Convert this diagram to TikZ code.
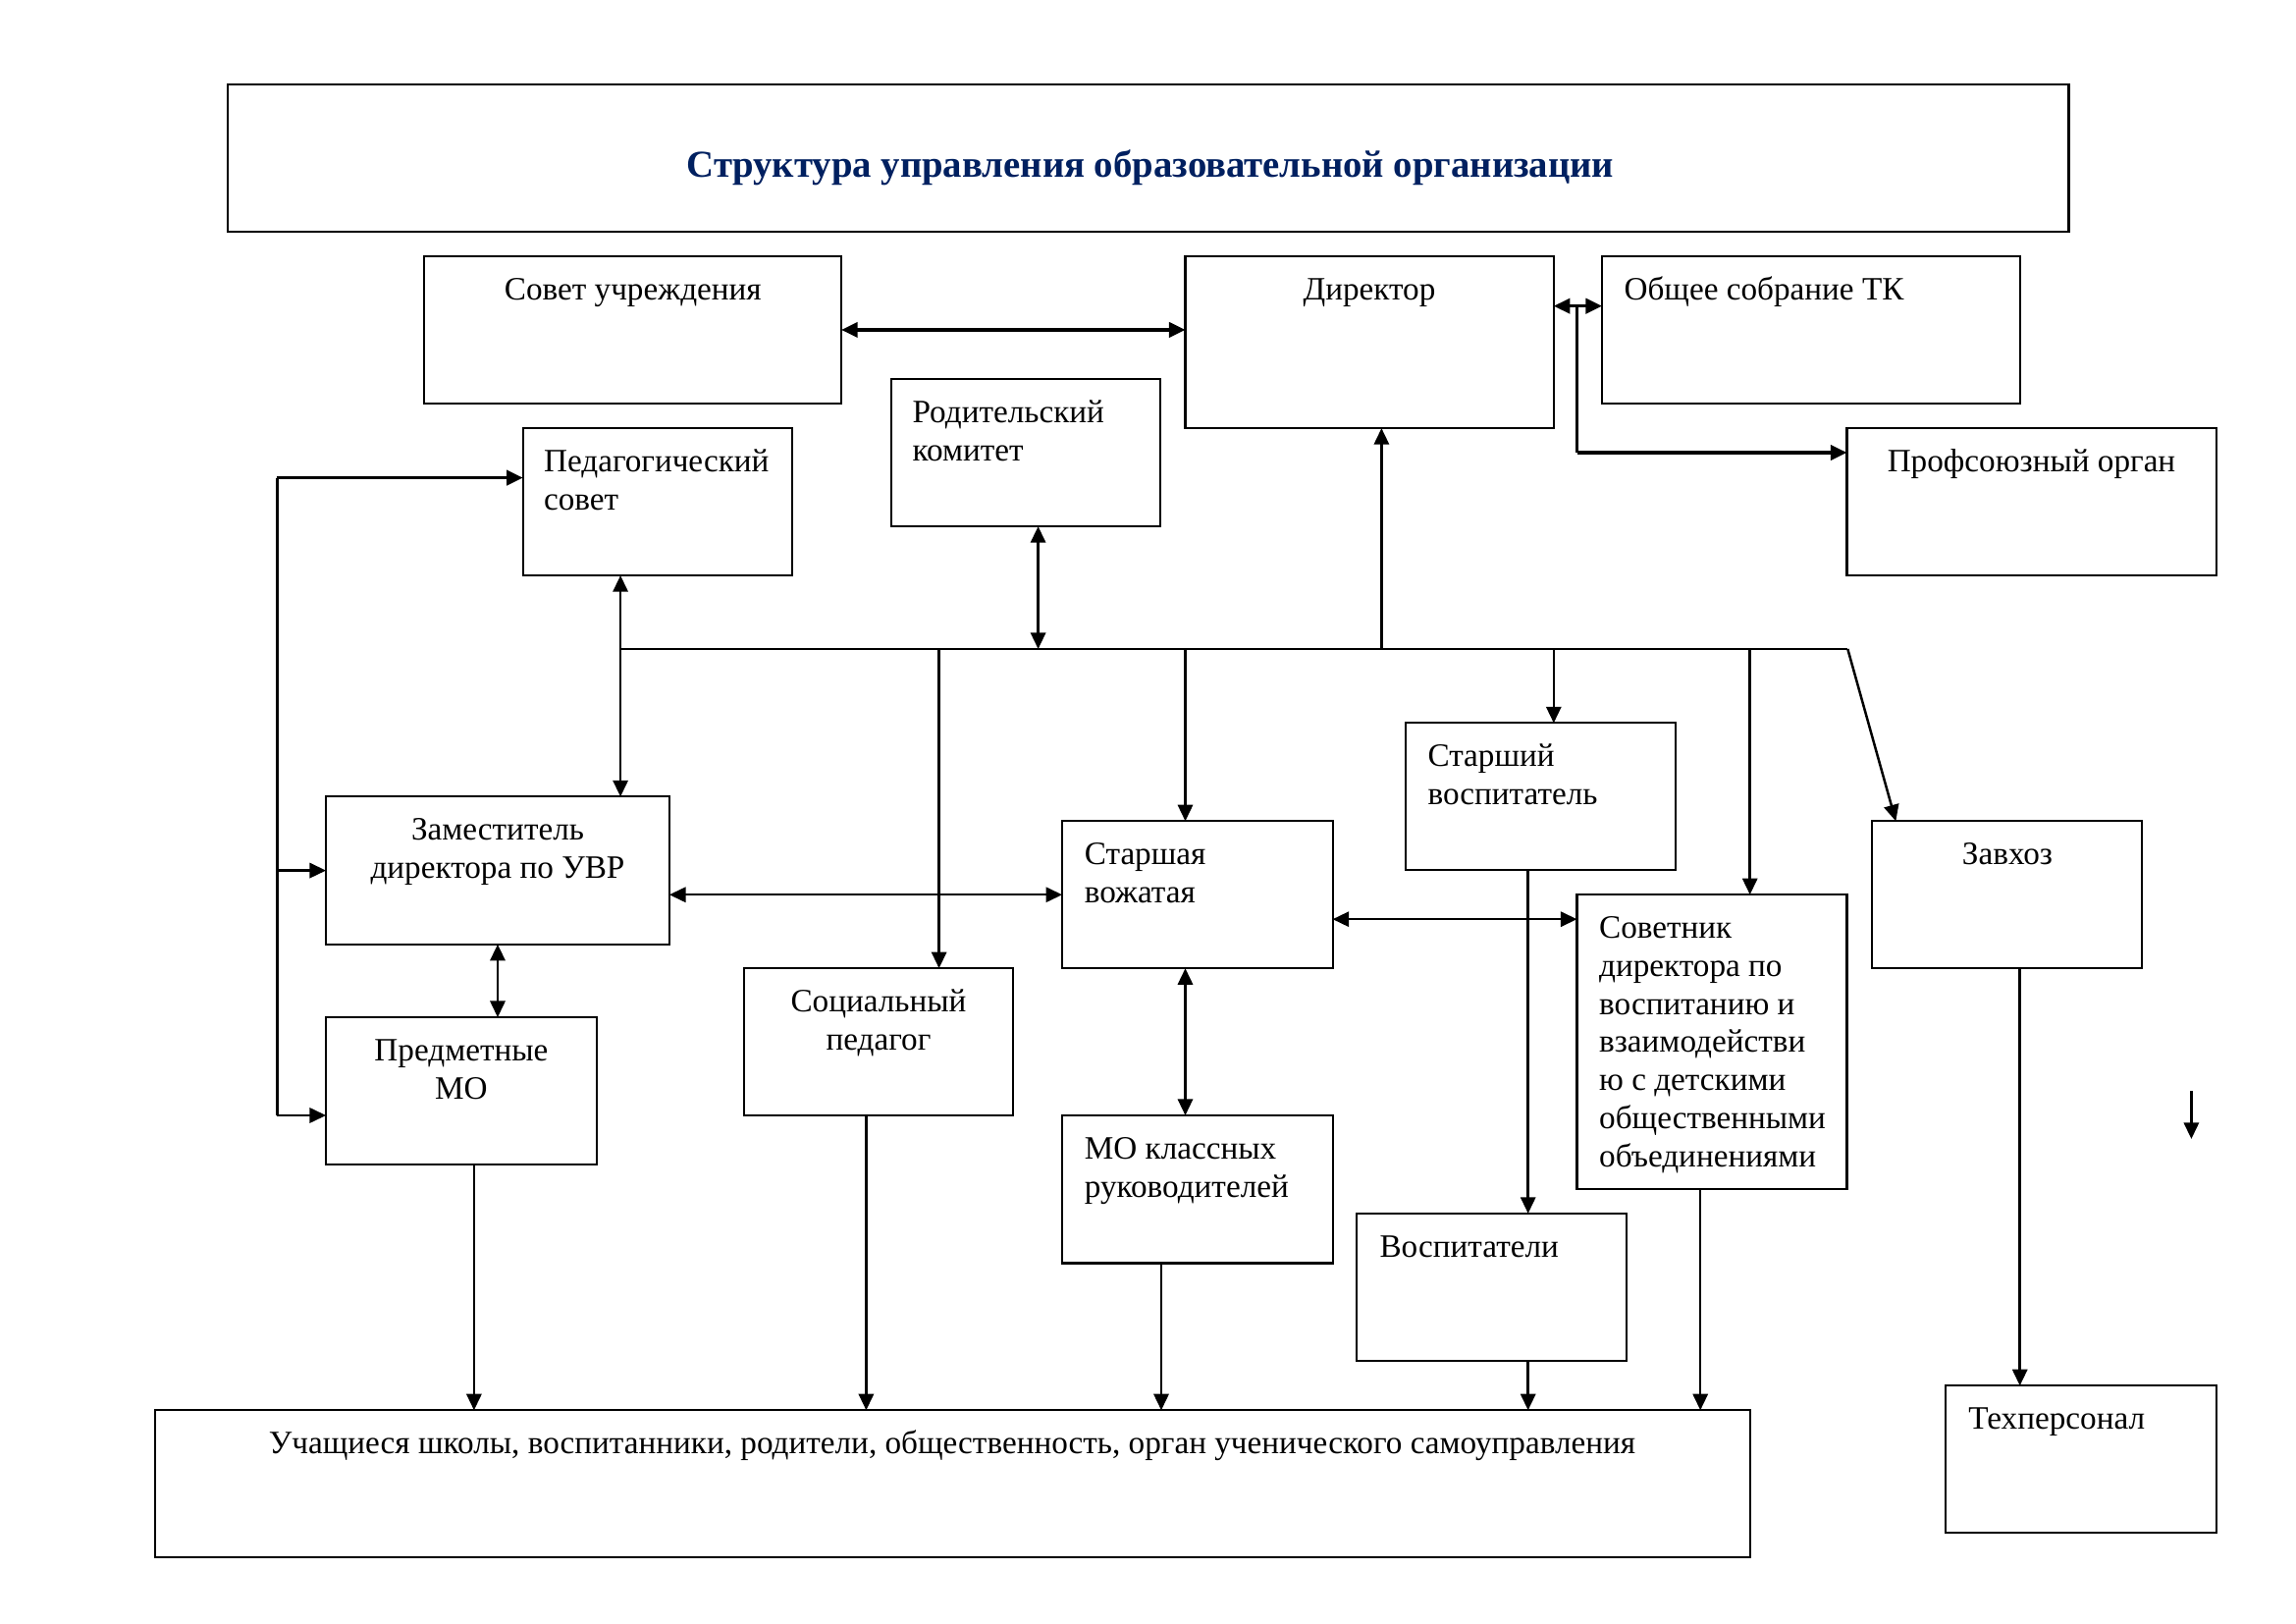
\documentclass[tikz,border=0pt]{standalone}
\usepackage{fontspec}
\setmainfont{Liberation Serif}
\usetikzlibrary{arrows.meta}
\definecolor{titleblue}{RGB}{0,32,96}
\newcommand{\bx}[5]{\node[box, anchor=north west, minimum width={(#4-#2)*0.12698mm}, minimum height={(#5-#3)*0.12698mm}] (#1) at (#2,#3) {};}
\begin{document}
\begin{tikzpicture}[x={(0.12698mm,0)}, y={(0,-0.12698mm)},
  box/.style={draw, line width=0.75pt, inner sep=0pt, outer sep=0pt},
  txt/.style={inner sep=0pt, font=\fontsize{12}{14}\selectfont},
  tl/.style={txt, anchor=north west, align=left},
  tc/.style={txt, anchor=north, align=center},
  conn/.style={line width=0.9pt},
  thick conn/.style={line width=1.2pt},
  tip/.style={-{Triangle[length=6pt,width=5.5pt]}},
  both/.style={{Triangle[length=6pt,width=5.5pt]}-{Triangle[length=6pt,width=5.5pt]}}]
\useasboundingbox (0,0) rectangle (2339,1654);
\fill[white] (0,0) rectangle (2339,1654);
% boxes
\bx{title}{232}{86}{2107.5}{236}
\bx{sovet}{432.4}{261.2}{857.1}{410.7}
\bx{dir}{1207.5}{261.2}{1582.8}{436.1}
\bx{obsh}{1632}{261.2}{2057.7}{410.7}
\bx{prof}{1881.5}{436.1}{2257.6}{586.1}
\bx{rod}{907.6}{386.1}{1182.4}{536.1}
\bx{ped}{532.7}{436.1}{807.4}{586.1}
\bx{zam}{332.1}{811.4}{681.9}{961.8}
\bx{pmo}{332.1}{1036.1}{607.6}{1185.9}
\bx{soc}{757.6}{986.2}{1032.4}{1136}
\bx{vozh}{1082.1}{836.3}{1357.6}{986.2}
\bx{mokl}{1082.1}{1136}{1357.6}{1286.5}
\bx{stv}{1431.9}{736.4}{1706.9}{886.3}
\bx{sov}{1606.5}{911.2}{1881.5}{1210.9}
\bx{vosp}{1382.1}{1235.9}{1657.1}{1386.3}
\bx{zavh}{1906.8}{836.3}{2181.8}{986.2}
\bx{tech}{1981.9}{1411.3}{2257.6}{1561}
\bx{uch}{157.7}{1436.3}{1782.7}{1586}
% texts
\node[inner sep=0pt, anchor=base, font=\fontsize{14}{16}\selectfont\bfseries, text=titleblue] (title-t) at (1172,181) {Структура управления образовательной организации};
\node[tc] (sovet-t) at (644.8,278) {\strut Совет учреждения};
\node[tc] (dir-t) at (1395,278) {\strut Директор};
\node[tl] (obsh-t) at (1654,278) {\strut Общее собрание ТК};
\node[tc] (prof-t) at (2069.5,453) {\strut Профсоюзный орган};
\node[tl] (rod-t) at (929,403) {\strut Родительский\\комитет};
\node[tl] (ped-t) at (553.5,453) {\strut Педагогический\\совет};
\node[tc] (zam-t) at (507,828) {\strut Заместитель\\директора по УВР};
\node[tc] (pmo-t) at (469.9,1053) {\strut Предметные\\МО};
\node[tc] (soc-t) at (895,1003) {\strut Социальный\\педагог};
\node[tl] (vozh-t) at (1104.3,853) {\strut Старшая\\вожатая};
\node[tl] (mokl-t) at (1104.3,1153) {\strut МО классных\\руководителей};
\node[tl] (stv-t) at (1454,753) {\strut Старший\\воспитатель};
\node[tl] (sov-t) at (1628.6,928) {\strut Советник\\директора по\\воспитанию и\\взаимодействи\\ю с детскими\\общественными\\объединениями};
\node[tl] (vosp-t) at (1405,1253) {\strut Воспитатели};
\node[tc] (zavh-t) at (2045,853) {\strut Завхоз};
\node[tl] (tech-t) at (2004.8,1428) {\strut Техперсонал};
\node[tc] (uch-t) at (970,1453) {\strut Учащиеся школы, воспитанники, родители, общественность, орган ученического самоуправления};
% coordinates
\coordinate (busL) at (632.1,661);
\coordinate (busR) at (1882.3,661);
\coordinate (tkx) at (1606.7,311.7);
\coordinate (profin) at (1606.7,461);
\coordinate (leftTop) at (282.4,486.6);
\coordinate (leftBot) at (282.4,1136);
\coordinate (strayA) at (2232.4,1111);
\coordinate (strayB) at (2232.4,1160);
% connectors top
\draw[thick conn, both] (sovet.east) -- (dir.west |- sovet.east);
\draw[thick conn, both] (dir.east |- tkx) -- (obsh.west |- tkx);
\draw[conn] (tkx) -- (profin);
\draw[thick conn, tip] (profin) -- (prof.west |- profin);
% bus
\draw[conn] (busL) -- (busR);
\draw[conn, both] (rod.south -| 1057.6,0) -- (1057.6,661);
\draw[conn, tip] (1407.4,661) -- (dir.south -| 1407.4,0);
\draw[conn, both] (ped.south -| busL) -- (zam.north -| busL);
\draw[conn, tip] (956.6,661) -- (soc.north -| 956.6,0);
\draw[conn, tip] (1207.5,661) -- (vozh.north -| 1207.5,0);
\draw[conn, tip] (1582.8,661) -- (stv.north -| 1582.8,0);
\draw[conn, tip] (1782.7,661) -- (sov.north -| 1782.7,0);
\draw[conn, tip] (busR) -- (zavh.north -| 1931.3,0);
% left line
\draw[conn] (leftTop) -- (leftBot);
\draw[thick conn, tip] (leftTop) -- (ped.west |- leftTop);
\draw[conn, tip] (leftTop |- zam.west) -- (zam.west);
\draw[conn, tip] (leftBot) -- (pmo.west |- leftBot);
% middle
\draw[conn, both] (zam.east |- vozh.west) -- (vozh.west);
\draw[conn, both] (zam.south) -- (pmo.north -| zam.south);
\draw[conn, both] (vozh.east |- 0,936.2) -- (sov.west |- 0,936.2);
\draw[conn, both] (vozh.south -| 1207.5,0) -- (mokl.north -| 1207.5,0);
\draw[conn, tip] (stv.south -| 1556.7,0) -- (vosp.north -| 1556.7,0);
% into bottom box
\draw[conn, tip] (pmo.south -| 482.9,0) -- (uch.north -| 482.9,0);
\draw[conn, tip] (soc.south -| 882.4,0) -- (uch.north -| 882.4,0);
\draw[conn, tip] (mokl.south -| 1183,0) -- (uch.north -| 1183,0);
\draw[conn, tip] (vosp.south -| 1556.7,0) -- (uch.north -| 1556.7,0);
\draw[conn, tip] (sov.south -| 1732.2,0) -- (uch.north -| 1732.2,0);
\draw[conn, tip] (zavh.south -| 2057.7,0) -- (tech.north -| 2057.7,0);
\draw[conn, tip] (strayA) -- (strayB);
\end{tikzpicture}
\end{document}
